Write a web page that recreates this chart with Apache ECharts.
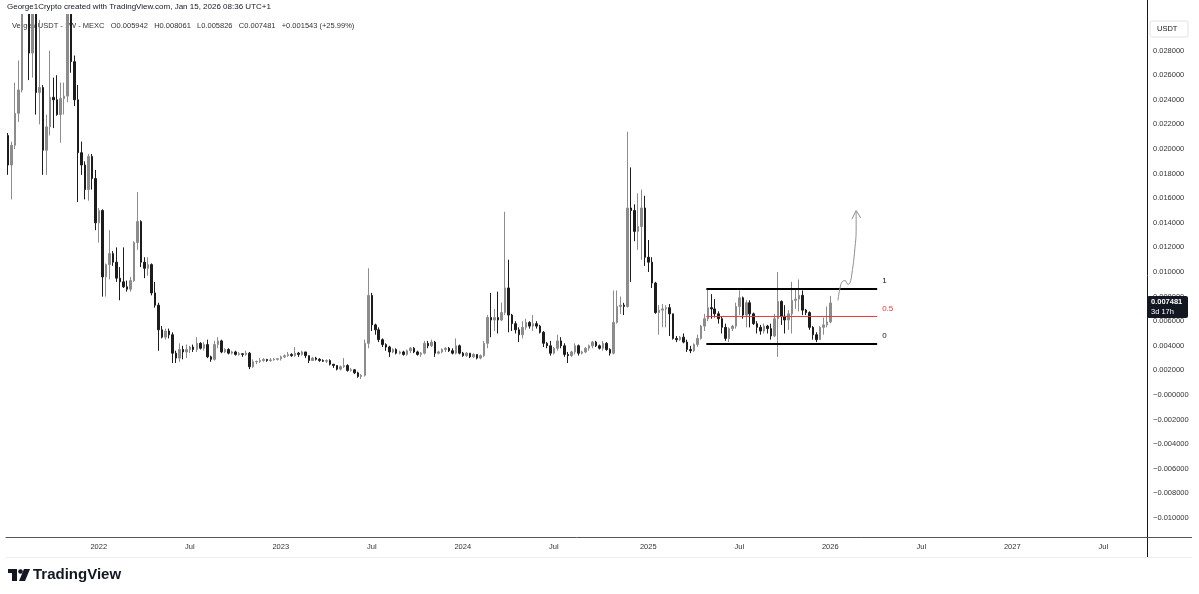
<!DOCTYPE html>
<html><head><meta charset="utf-8">
<script src="https://cdn.jsdelivr.net/npm/echarts@6/dist/echarts.min.js"></script>
<style>html,body{margin:0;padding:0;background:#fff}#c{width:1199px;height:594px}</style>
</head><body><div id="c"></div>
<script>
// weekly candles, first bar week of 2021-07-05, last bar week of 2026-01-12
const firstWeek = '2021-07-05';
const totalWeeks = 326; // axis extends into the future (to Oct 2027)
const opens = [
.0211,.0187,.0203,.0229,.0248,.0330,.0390,.0278,.0350,.0246,
.0250,.0199,.0218,.0242,.0240,.0228,.0241,.0243,.0330,.0271,
.0240,.0197,.0187,.0167,.0194,.0176,.0140,.0150,.0096,.0106,
.0115,.0108,.0095,.0092,.0088,.0086,.0093,.0124,.0141,.0108,
.0103,.0106,.0083,.0073,.0053,.0047,.0052,.0049,.0034,.0030,
.0037,.0035,.0037,.0039,.0037,.0042,.0038,.0041,.0031,.0029,
.0041,.0044,.0035,.0037,.0034,.0035,.0033,.00335,.0033,.0034,
.0023,.0027,.00272,.0028,.0029,.0028,.00285,.0029,.00295,.0031,
.0032,.0033,.0032,.0034,.0033,.0035,.0032,.0028,.0030,.0029,
.0028,.00275,.0028,.0025,.0024,.0021,.0023,.0024,.0020,.00205,
.0018,.0015,.0016,.0042,.0081,.0057,.0053,.0045,.0041,.0039,
.0035,.0037,.0034,.0035,.0033,.0036,.0038,.0035,.0033,.0034,
.0042,.0040,.0043,.0034,.0035,.0037,.0038,.0036,.0034,.0040,
.0034,.0032,.0034,.0031,.0033,.0030,.0032,.0042,.0063,.0061,
.0063,.0061,.0067,.0087,.0065,.0058,.0053,.0049,.0055,.0059,
.0056,.0058,.0056,.0051,.0042,.0040,.0034,.0038,.0044,.0040,
.0033,.0032,.0035,.0040,.0034,.0035,.0038,.0040,.0043,.0040,
.0038,.0042,.0037,.0034,.0059,.0072,.0073,.0072,.0152,.0150,
.0133,.0137,.0152,.0112,.0108,.0091,.0067,.0069,.0070,.0071,
.0066,.0046,.0045,.0047,.0043,.0037,.0036,.0041,.0046,.0056,
.0062,.0071,.0070,.0066,.0062,.0055,.0046,.0054,.0056,.0072,
.0079,.0065,.0075,.0066,.0058,.0055,.0052,.0056,.0054,.0048,
.0062,.0076,.0064,.0061,.0066,.0077,.0078,.0081,.0069,.0067,
.0055,.0049,.0045,.0055,.0057,.005942
];
const highs = [
.0213,.0206,.0254,.0272,.0370,.0460,.0410,.0380,.0360,.0305,
.0252,.0228,.0280,.0258,.0260,.0254,.0254,.0370,.0360,.0276,
.0252,.0206,.0190,.0196,.0196,.0183,.0152,.0151,.0107,.0134,
.0117,.0120,.0104,.0120,.0093,.0096,.0125,.0165,.0142,.0112,
.0112,.0107,.0092,.0075,.0056,.0054,.0054,.0051,.0036,.0042,
.0040,.0041,.0040,.0041,.0047,.0043,.0043,.0045,.0032,.0044,
.0047,.0045,.0038,.0038,.0036,.0036,.0035,.0034,.0036,.0035,
.0029,.0028,.0030,.0030,.0029,.0030,.0030,.0030,.0032,.0033,
.0035,.0034,.0039,.0035,.0036,.0035,.0032,.0031,.0031,.0030,
.0029,.0029,.0029,.0025,.0024,.0024,.0030,.0025,.0022,.0021,
.0019,.0017,.0045,.0103,.0083,.0058,.0055,.0046,.0042,.0040,
.0038,.0038,.0036,.0036,.0037,.0039,.0039,.0036,.0035,.0044,
.0044,.0045,.0044,.0036,.0038,.0039,.0039,.0038,.0046,.0041,
.0035,.0035,.0034,.0034,.0033,.0033,.0044,.0065,.0083,.0070,
.0084,.0075,.0149,.0110,.0066,.0060,.0055,.0060,.0062,.0060,
.0065,.0060,.0057,.0052,.0043,.0044,.0039,.0049,.0047,.0042,
.0035,.0036,.0042,.0041,.0036,.0039,.0041,.0044,.0044,.0041,
.0044,.0043,.0038,.0085,.0085,.0080,.0075,.0214,.0185,.0155,
.0164,.0167,.0162,.0126,.0112,.0092,.0073,.0074,.0073,.0074,
.0066,.0048,.0048,.0050,.0045,.0040,.0042,.0049,.0057,.0066,
.0086,.0082,.0078,.0068,.0064,.0058,.0055,.0057,.0075,.0085,
.0080,.0077,.0077,.0067,.0060,.0057,.0058,.0057,.0058,.0066,
.0100,.0077,.0073,.0069,.0092,.0087,.0094,.0085,.0070,.0068,
.0056,.0051,.0056,.0063,.0072,.008061
];
const lows = [
.0179,.0159,.0200,.0222,.0246,.0320,.0256,.0258,.0228,.0220,
.0179,.0179,.0211,.0217,.0227,.0205,.0228,.0238,.0262,.0235,
.0157,.0179,.0159,.0158,.0167,.0134,.0124,.0080,.0080,.0094,
.0105,.0092,.0077,.0087,.0084,.0084,.0092,.0118,.0104,.0095,
.0097,.0081,.0071,.0036,.0046,.0045,.0046,.0026,.0026,.0027,
.0029,.0030,.0034,.0035,.0035,.0037,.0036,.0030,.0027,.0028,
.0038,.0034,.0034,.0033,.0033,.0032,.0032,.0031,.0032,.0021,
.0022,.0025,.0026,.0027,.0027,.0027,.0028,.0028,.0028,.0030,
.0031,.0031,.0031,.0031,.0032,.0030,.0026,.0028,.0028,.0027,
.0027,.0026,.0024,.0022,.0020,.0020,.0022,.0019,.0019,.0017,
.0014,.0013,.0015,.0038,.0052,.0049,.0043,.0039,.0036,.0031,
.0034,.0033,.0033,.0032,.0032,.0034,.0034,.0032,.0031,.0033,
.0038,.0039,.0031,.0033,.0034,.0035,.0035,.0033,.0033,.0033,
.0031,.0031,.0030,.0030,.0029,.0029,.0031,.0038,.0047,.0052,
.0050,.0060,.0065,.0051,.0052,.0050,.0043,.0046,.0053,.0054,
.0052,.0054,.0050,.0039,.0038,.0032,.0033,.0036,.0038,.0031,
.0026,.0031,.0033,.0032,.0033,.0034,.0036,.0038,.0039,.0037,
.0036,.0036,.0032,.0033,.0058,.0066,.0065,.0071,.0092,.0125,
.0118,.0110,.0105,.0100,.0087,.0066,.0049,.0055,.0055,.0048,
.0045,.0043,.0044,.0042,.0035,.0034,.0035,.0039,.0045,.0052,
.0060,.0062,.0063,.0058,.0050,.0044,.0043,.0052,.0054,.0065,
.0062,.0055,.0055,.0057,.0050,.0049,.0050,.0050,.0045,.0047,
.0031,.0057,.0050,.0053,.0050,.0070,.0068,.0065,.0065,.0053,
.0045,.0043,.0045,.0049,.0055,.005826
];
const closes = [
.0187,.0203,.0229,.0248,.0330,.0390,.0278,.0350,.0246,.0250,
.0199,.0218,.0242,.0240,.0228,.0241,.0243,.0330,.0271,.0240,
.0197,.0187,.0167,.0194,.0176,.0140,.0150,.0096,.0106,.0115,
.0108,.0095,.0092,.0088,.0086,.0093,.0124,.0141,.0108,.0103,
.0106,.0083,.0073,.0053,.0047,.0052,.0049,.0034,.0030,.0037,
.0035,.0037,.0039,.0037,.0042,.0038,.0041,.0031,.0029,.0041,
.0044,.0035,.0037,.0034,.0035,.0033,.00335,.0033,.0034,.0023,
.0027,.00272,.0028,.0029,.0028,.00285,.0029,.00295,.0031,.0032,
.0033,.0032,.0034,.0033,.0035,.0032,.0028,.0030,.0029,.0028,
.00275,.0028,.0025,.0024,.0021,.0023,.0024,.0020,.00205,.0018,
.0015,.0016,.0042,.0081,.0057,.0053,.0045,.0041,.0039,.0035,
.0037,.0034,.0035,.0033,.0036,.0038,.0035,.0033,.0034,.0042,
.0040,.0043,.0034,.0035,.0037,.0038,.0036,.0034,.0040,.0034,
.0032,.0034,.0031,.0033,.0030,.0032,.0042,.0063,.0061,.0063,
.0061,.0067,.0087,.0065,.0058,.0053,.0049,.0055,.0059,.0056,
.0058,.0056,.0051,.0042,.0040,.0034,.0038,.0044,.0040,.0033,
.0032,.0035,.0040,.0034,.0035,.0038,.0040,.0043,.0040,.0038,
.0042,.0037,.0034,.0059,.0072,.0073,.0072,.0152,.0150,.0133,
.0137,.0152,.0112,.0108,.0091,.0067,.0069,.0070,.0071,.0066,
.0046,.0045,.0047,.0043,.0037,.0036,.0041,.0046,.0056,.0062,
.0071,.0070,.0066,.0062,.0055,.0046,.0054,.0056,.0072,.0079,
.0065,.0075,.0066,.0058,.0055,.0052,.0056,.0054,.0048,.0062,
.0076,.0064,.0061,.0066,.0077,.0078,.0081,.0069,.0067,.0055,
.0049,.0045,.0055,.0057,.005942,.007481
];
// Fibonacci retracement drawing (levels and anchors)
const fibLevels = [1, 0.5, 0];
const fibHigh = 0.00862, fibLow = 0.00415;
const fibSpan = [199.6, 248.4];          // in week-slots from firstWeek
// hand-drawn arrow (week-slot, price)
const arrowPath = [[237.2,.0077],[237.8,.0087],[238.4,.0092],[239.2,.0093],[240.1,.0090],[240.6,.0091],[241.2,.0099],[242.0,.0118],[242.4,.0136],[242.4,.0149]];
const arrowHead = [[241.2,.0143],[242.4,.0150],[243.7,.0144]];
const lastPrice = 0.007481;

const yMin = -0.011545, yMax = 0.030976;
const weekMs = 7*864e5, t0 = Date.parse(firstWeek + 'T00:00:00Z');
const categories = [];
for (let i = 0; i < totalWeeks; i++) categories.push(new Date(t0 + i*weekMs).toISOString().slice(0,10));
const candles = opens.map((o,i)=>[o, closes[i], lows[i], highs[i]]);

const FONT = 'Liberation Sans, Arial, sans-serif';
const chart = echarts.init(document.getElementById('c'));
const fibSeries = fibLevels.map(l => {
  const v = fibLow + l*(fibHigh - fibLow);
  const red = l === 0.5;
  return {
    type:'line', xAxisIndex:1, yAxisIndex:0, symbol:'none', silent:true, z:5,
    data:[[fibSpan[0], v],[fibSpan[1], v]],
    lineStyle:{color: red ? '#e53935' : '#000', width: red ? 1 : 2},
    endLabel:{show:true, formatter: String(l), color: red ? '#e53935' : '#131722', fontSize:8, fontFamily:FONT, distance:5, offset:[0,-8]}
  };
});
chart.setOption({
  animation:false,
  backgroundColor:'#fff',
  grid:{left:6, right:52, top:14, bottom:57},
  xAxis:[{
    type:'category', data:categories, boundaryGap:true,
    axisLine:{onZero:false, lineStyle:{color:'#555', width:1}}, axisTick:{show:false}, splitLine:{show:false},
    axisLabel:{
      interval:(i,v)=>{ const m=+v.slice(5,7), d=+v.slice(8,10); return i>0 && d<=7 && (m===1||m===7); },
      formatter:v=> v.slice(5,7)==='01' ? v.slice(0,4) : 'Jul',
      fontSize:7.5, color:'#333', margin:6, fontFamily:FONT
    }
  },{
    type:'value', min:-0.5, max:totalWeeks-0.5, show:false, axisLine:{onZero:false}
  }],
  yAxis:{
    type:'value', position:'right', min:yMin, max:yMax, splitNumber:20,
    axisLine:{show:true, onZero:false, lineStyle:{color:'#131722', width:1}}, axisTick:{show:false}, splitLine:{show:false},
    axisLabel:{
      showMinLabel:false, showMaxLabel:false, fontSize:7.5, color:'#333', margin:6, fontFamily:FONT,
      formatter:v=>{
        const r = Math.round(v*500)/500;
        if (Math.abs(v-r) > 1e-7 || r > 0.0295) return '';
        if (Math.abs(r) < 1e-9) return '\u22120.000000';
        return r < 0 ? '\u2212' + Math.abs(r).toFixed(6) : r.toFixed(6);
      }
    }
  },
  series:[{
    type:'candlestick', data:candles, barWidth:2, z:3, clip:true,
    itemStyle:{color:'#8c8c8c', color0:'#1c1c1c', borderColor:'#8c8c8c', borderColor0:'#1c1c1c', borderWidth:1}
  }].concat(fibSeries, [{
    type:'line', xAxisIndex:1, yAxisIndex:0, data:arrowPath, smooth:true, symbol:'none', silent:true, z:5,
    lineStyle:{color:'#8f8f8f', width:1}
  },{
    type:'line', xAxisIndex:1, yAxisIndex:0, data:arrowHead, symbol:'none', silent:true, z:5,
    lineStyle:{color:'#8f8f8f', width:1}
  }])
});

const py = chart.convertToPixel({yAxisIndex:0}, lastPrice);
chart.setOption({graphic:[
  {type:'rect', shape:{x:0, y:0, width:1147, height:14}, z:50, style:{fill:'#fff'}},
  {type:'text', left:7, top:3, z:51, style:{text:'George1Crypto created with TradingView.com, Jan 15, 2026 08:36 UTC+1', fill:'#131722', font:'8px '+FONT}},
  {type:'text', left:12, top:22, z:0, style:{text:'Verge / USDT - 1W - MEXC   O0.005942   H0.008061   L0.005826   C0.007481   +0.001543 (+25.99%)', fill:'#333', font:'7.5px '+FONT}},
  {type:'rect', shape:{x:1150, y:21, width:38, height:16, r:2}, z:10, style:{fill:'#fff', stroke:'#e0e3eb', lineWidth:1}},
  {type:'text', x:1157, y:25, z:11, style:{text:'USDT', fill:'#131722', font:'7.5px '+FONT}},
  {type:'line', shape:{x1:1147.5, y1:0, x2:1147.5, y2:14}, z:51, style:{stroke:'#131722', lineWidth:1}},
  {type:'line', shape:{x1:1147.5, y1:537, x2:1147.5, y2:557}, z:10, style:{stroke:'#131722', lineWidth:1}},
  {type:'line', shape:{x1:1147, y1:537.5, x2:1192, y2:537.5}, z:10, style:{stroke:'#555', lineWidth:1}},
  {type:'line', shape:{x1:6, y1:557.5, x2:1192, y2:557.5}, z:10, style:{stroke:'#eeeeee', lineWidth:1}},
  {type:'rect', shape:{x:1147, y:py-7, width:41, height:22, r:2}, z:10, style:{fill:'#131722'}},
  {type:'text', x:1151, y:py-5, z:11, style:{text:lastPrice.toFixed(6), fill:'#fff', font:'bold 7.5px '+FONT}},
  {type:'text', x:1151, y:py+5, z:11, style:{text:'3d 17h', fill:'#fff', font:'7.5px '+FONT}},
  {type:'rect', shape:{x:8, y:569, width:9, height:4}, z:10, style:{fill:'#131722'}},
  {type:'rect', shape:{x:12, y:569, width:5, height:12}, z:10, style:{fill:'#131722'}},
  {type:'circle', shape:{cx:20.5, cy:571.5, r:2.3}, z:10, style:{fill:'#131722'}},
  {type:'polygon', shape:{points:[[24,569],[30,569],[25,581],[19,581]]}, z:10, style:{fill:'#131722'}},
  {type:'text', x:33, y:567, z:10, style:{text:'TradingView', fill:'#131722', font:'bold 15px '+FONT}}
]});
</script></body></html>
